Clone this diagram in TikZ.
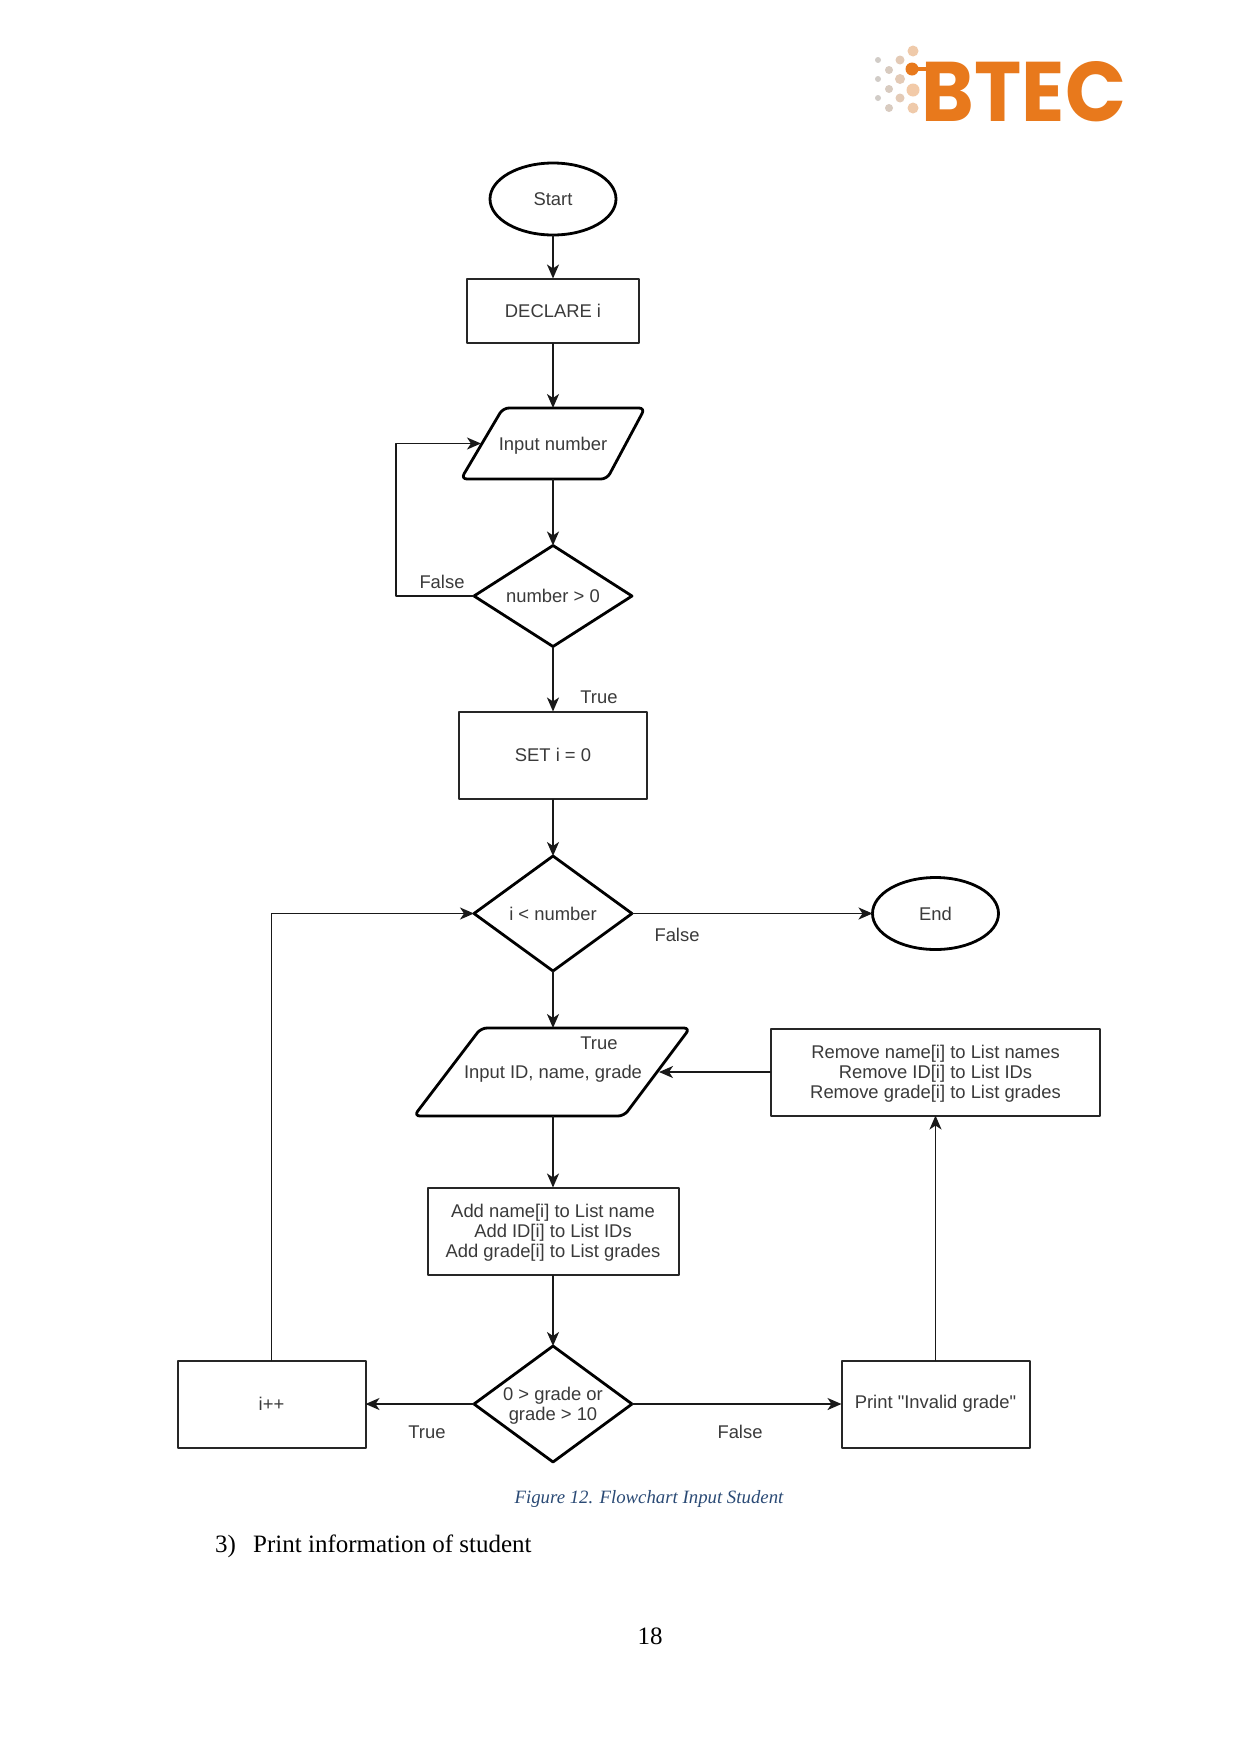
\documentclass[tikz,border=0pt]{standalone}
\usepackage{fontspec}
\setmainfont{Liberation Serif}
\newfontfamily\chartfont{Liberation Sans}
\newfontfamily\logofont{Poppins}
\usetikzlibrary{arrows.meta,shapes.geometric}
\definecolor{logoOrange}{HTML}{E8791C}
\definecolor{captionBlue}{HTML}{2A4A75}
\definecolor{chartText}{HTML}{3A3A3A}
\tikzset{
  >={Stealth[length=14pt,width=12pt,inset=4pt]},
  chartLabel/.style={font=\chartfont\fontsize{18.4}{20}\selectfont,text=chartText,align=center,inner sep=0pt},
  lowText/.style={text depth=0pt},
  link/.style={line width=1.8pt,black!90},
  processBox/.style={chartLabel,draw=black!85,line width=2pt,rectangle,outer sep=0pt},
  terminalBox/.style={chartLabel,draw=black,line width=2.8pt,ellipse,minimum width=126pt,minimum height=72pt,outer sep=0pt},
  decisionBox/.style={chartLabel,draw=black,line width=2.8pt,diamond,aspect=1.5,minimum width=158pt,outer sep=0pt},
  inputLine/.style={draw=black,line width=2.8pt,rounded corners=6pt},
  inputBox/.style={chartLabel,lowText,rectangle,minimum width=120pt,outer sep=0pt},
  pageText/.style={font=\fontsize{25}{30}\selectfont,inner sep=0pt}
}
\begin{document}
\begin{tikzpicture}[x=1pt,y=-1pt,line join=round]
    \pgfmathsetmacro{\centerX}{553}
    \pgfmathsetmacro{\rightX}{935.5}
    \useasboundingbox[fill=white] (0,0) rectangle (1241,1754);

    % Logo
    \foreach \dotX/\dotY/\dotR/\dotTint in {913/51/5.5/85,900/60/4.5/55,889/70/4/30,878/60/3/12,900/79/5/55,889/89/4/30,913/90/6.5/90,900/98/4.5/55,889/108/4/30,913/108/5.5/85,878/79/3/12,878/98/3/12}
      \fill[logoOrange!\dotTint!gray!40!white] (\dotX,\dotY) circle[radius=\dotR];
    \fill[logoOrange] (912,69) circle[radius=6.5];
    \draw[logoOrange,line width=3.5pt] (912,69) -- (930,69);
    \node[inner sep=0pt,text=logoOrange] (logoText) at (1024,91.5) {\resizebox{204pt}{60pt}{\logofont\bfseries BTEC}};

    % Eingaben
    \draw[inputLine] (461,479) -- (503,408) -- (645,408) -- (607,479) -- cycle;
    \draw[inputLine] (414,1116) -- (481,1028) -- (690,1028) -- (624,1116) -- cycle;

    % Schritte
    \node[terminalBox] (start) at (\centerX,199) {Start};
    \node[processBox,minimum width=172pt,minimum height=64pt] (declareI) at (\centerX,310.5) {DECLARE i};
    \node[inputBox,minimum height=71pt] (inputNumber) at (\centerX,443.5) {Input number};
    \node[decisionBox,minimum height=101pt] (numberCheck) at (\centerX,596) {number > 0};
    \node[processBox,minimum width=188pt,minimum height=87pt] (setI) at (\centerX,755) {SET i = 0};
    \node[decisionBox,minimum height=115pt] (countCheck) at (\centerX,913.5) {i < number};
    \node[terminalBox] (finish) at (\rightX,913.5) {End};
    \node[inputBox,minimum height=88pt] (inputStudent) at (\centerX,1072) {Input ID, name, grade};
    \node[processBox,lowText,minimum width=329pt,minimum height=87pt] (removeLists) at (\rightX,1072) {Remove name[i] to List names\\Remove ID[i] to List IDs\\Remove grade[i] to List grades};
    \node[processBox,lowText,minimum width=251pt,minimum height=87pt] (addLists) at (\centerX,1231) {Add name[i] to List name\\Add ID[i] to List IDs\\Add grade[i] to List grades};
    \node[decisionBox,lowText,minimum height=116pt] (gradeCheck) at (\centerX,1404) {0 > grade or\\grade > 10};
    \node[processBox,minimum width=188pt,minimum height=87pt] (increment) at (271.5,1404) {i++};
    \node[processBox,minimum width=188pt,minimum height=87pt] (printInvalid) at (\rightX,1404) {Print "Invalid grade"};
    \coordinate (falseBend) at (396,596);
    \coordinate (numberLeft) at (481,443.5);
    \coordinate (studentRight) at (659,1072);

    % Verbindungen
    \draw[link,->] (start) -- (declareI);
    \draw[link,->] (declareI) -- (inputNumber);
    \draw[link,->] (inputNumber) -- (numberCheck);
    \draw[link,->] (numberCheck.west) -- (falseBend) |- (numberLeft);
    \draw[link,->] (numberCheck) -- (setI);
    \draw[link,->] (setI) -- (countCheck);
    \draw[link,->] (countCheck) -- (finish);
    \draw[link,->] (countCheck) -- (inputStudent);
    \draw[link,->] (inputStudent) -- (addLists);
    \draw[link,->] (addLists) -- (gradeCheck);
    \draw[link,->] (gradeCheck) -- (increment);
    \draw[link,->] (gradeCheck) -- (printInvalid);
    \draw[link,->] (increment.north) |- (countCheck.west);
    \draw[link,->] (printInvalid) -- (removeLists);
    \draw[link,->] (removeLists.west) -- (studentRight);

    % Beschriftung
    \node[chartLabel] (falseNumber) at (442,582) {False};
    \node[chartLabel] (trueNumber) at (599,697) {True};
    \node[chartLabel] (falseCount) at (677,935) {False};
    \node[chartLabel] (trueCount) at (599,1043) {True};
    \node[chartLabel] (trueGrade) at (427,1432) {True};
    \node[chartLabel] (falseGrade) at (740,1432) {False};

    % Seitentext
    \node[inner sep=0pt,text=captionBlue,font=\itshape\fontsize{18.8}{22}\selectfont] (caption) at (649,1499) {Figure 12. Flowchart Input Student};
    \node[pageText,anchor=base west] (itemNumber) at (215,1552) {3)};
    \node[pageText,anchor=base west] (itemText) at (253,1552) {Print information of student};
    \node[pageText] (pageNumber) at (650,1636) {18};
  \end{tikzpicture}
\end{document}
